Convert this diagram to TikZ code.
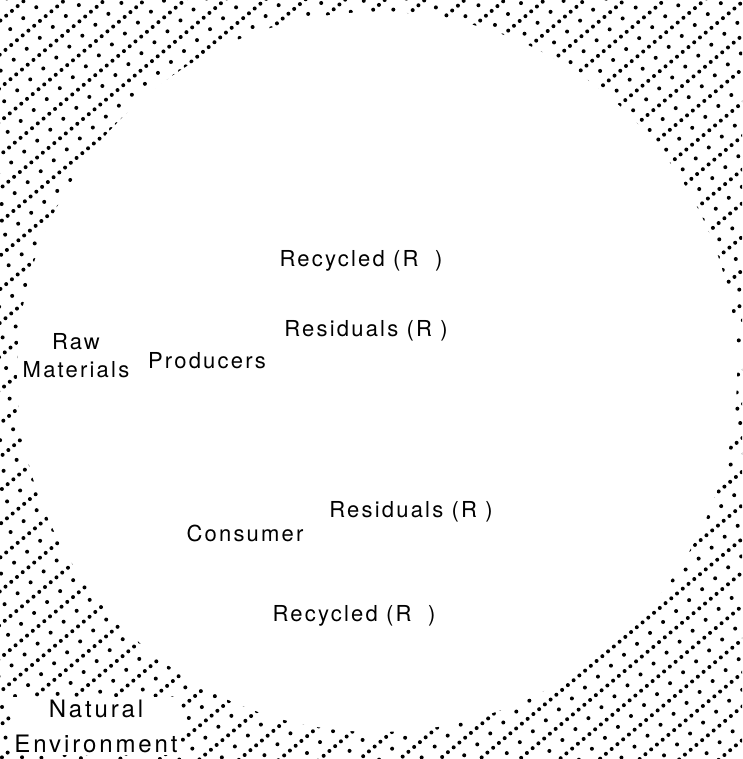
\documentclass[tikz,border=0pt]{standalone}
\usepackage{fontspec}
\setmainfont{TeX Gyre Heros}
\begin{document}
\begin{tikzpicture}[x=1pt,y=1pt,
    dotline/.style={line width=4pt, line cap=round, dash pattern=on 0pt off 7.5pt},
    sparseline/.style={line width=4pt, line cap=round, dash pattern=on 0pt off 17pt},
    lbl/.style={font=\fontsize{22}{28}\selectfont\addfontfeature{LetterSpace=10}, inner sep=1pt, align=center}]
  \useasboundingbox (0,0) rectangle (742,759);
  \clip (0,0) rectangle (742,759);
  % dotted hatching of the natural environment
  \begin{scope}[rotate=40]
    \foreach \i in {-20,...,24} {
      \draw[dotline] (-50,\i*25.7) -- (1150,\i*25.7);
      \draw[sparseline] (-50,\i*25.7+12.85) -- (1150,\i*25.7+12.85);
    }
  \end{scope}
  % the economy
  \fill[white] (377,387) circle (360);

  \node[lbl] (rec1) at (361,498) {Recycled (R~~)};
  \node[lbl] (res1) at (366,428) {Residuals (R~)};
  \node[lbl] (raw) at (76,403) {Raw\\Materials};
  \node[lbl] (prod) at (207,398) {Producers};
  \node[lbl] (res2) at (411,247) {Residuals (R~)};
  \node[lbl] (cons) at (245,226) {Consumer};
  \node[lbl] (rec2) at (354,143) {Recycled (R~~)};
  \node[lbl, font=\fontsize{24}{30}\selectfont\addfontfeature{LetterSpace=12}, fill=white, inner sep=3pt]
    (nat) at (96,33) {Natural\\[5pt]Environment};
\end{tikzpicture}
\end{document}
